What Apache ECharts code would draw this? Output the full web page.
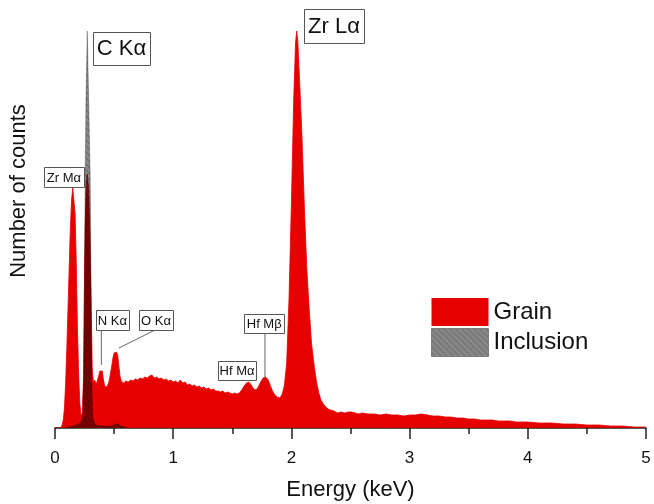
<!DOCTYPE html>
<html>
<head>
<meta charset="utf-8">
<script src="https://cdn.jsdelivr.net/npm/echarts@6/dist/echarts.min.js"></script>
<style>
html,body{margin:0;padding:0;background:#fff;}
#chart{width:654px;height:504px;}
</style>
</head>
<body>
<div id="chart"></div>
<script>
// ---- data (energy in keV, counts in arbitrary units) ----
const xTicks = [0, 1, 2, 3, 4, 5];

const grainEnergy = [0.00,0.05,0.06,0.07,0.08,0.09,0.10,0.11,0.12,0.13,0.14,0.15,0.155,0.16,0.17,0.18,0.19,0.20,0.21,0.22,0.23,0.24,0.248,0.255,0.265,0.273,0.285,0.295,0.305,0.315,0.325,0.335,0.35,0.36,0.37,0.38,0.39,0.40,0.41,0.42,0.43,0.44,0.45,0.46,0.47,0.48,0.49,0.50,0.51,0.52,0.53,0.54,0.55,0.56,0.58,0.60,0.62,0.64,0.66,0.68,0.70,0.72,0.74,0.76,0.78,0.80,0.82,0.84,0.86,0.88,0.90,0.92,0.94,0.96,0.98,1.00,1.02,1.04,1.06,1.08,1.10,1.12,1.14,1.16,1.18,1.20,1.22,1.24,1.26,1.28,1.30,1.32,1.34,1.36,1.38,1.40,1.42,1.44,1.46,1.48,1.50,1.52,1.54,1.56,1.58,1.60,1.62,1.64,1.66,1.68,1.70,1.72,1.74,1.76,1.78,1.80,1.82,1.84,1.86,1.88,1.90,1.92,1.94,1.96,1.98,2.00,2.02,2.035,2.045,2.055,2.07,2.09,2.11,2.13,2.15,2.17,2.19,2.21,2.23,2.25,2.27,2.29,2.31,2.33,2.36,2.39,2.42,2.45,2.48,2.51,2.54,2.57,2.60,2.65,2.70,2.75,2.80,2.85,2.90,2.95,3.00,3.05,3.10,3.15,3.20,3.25,3.30,3.35,3.40,3.45,3.50,3.55,3.60,3.65,3.70,3.75,3.80,3.85,3.90,3.95,4.00,4.10,4.20,4.30,4.40,4.50,4.60,4.70,4.80,4.90,5.00];
const grainCounts = [0,0,3,8,20,45,80,120,160,200,228,240,241,238,215,165,100,55,25,12,15,45,135,200,243,254,238,195,130,60,45,48,44,46,52,57,59,57,48,42,40,41,44,48,55,62,70,75,77,76,73,62,52,47,45,47,46,48,47,49,48,50,49,51,50,52,53,50,51,49,50,48,49,47,48,46,47,45,48,45,46,43,44,42,43,41,42,40,41,39,40,38,39,37,37,36,37,35,36,35,34,35,34,35,38,42,45,46,43,39,38,41,46,50,51,49,43,37,33,31,30,33,42,65,130,225,330,385,397,385,345,290,220,160,120,85,65,48,36,28,24,21,19,18,17,15,16,15,16,16,15,14,15,14,14,13,14,13,13,12,13,13,14,13,12,12,11,11,10,10,9,9,8,8,8,7,7,7,6,6,6,5,5,4,4,3,3,2,2,1,1];

const inclusionEnergy = [0.00,0.08,0.12,0.18,0.22,0.235,0.245,0.25,0.255,0.262,0.273,0.285,0.298,0.305,0.31,0.32,0.34,0.40,0.48,0.51,0.53,0.56,0.62,5.00];
const inclusionCounts = [0,0,1,3,5,12,60,150,250,328,397,328,250,140,50,10,3,2,2,4,4,2,0,0];

const seriesNames = ['Grain', 'Inclusion'];

// peak annotations: label, box centre (data coords)
const peakLabels = ['C K\u03b1', 'Zr L\u03b1', 'Zr M\u03b1', 'N K\u03b1', 'O K\u03b1', 'Hf M\u03b1', 'Hf M\u03b2'];
const labelAnchorE = [0.563, 2.36, 0.076, 0.485, 0.854, 1.540, 1.770];
const labelAnchorV = [380, 402, 251, 108, 108, 58, 104.5];

// -------------------------------------------------------------------------------
const grainData = grainEnergy.map((e, i) => [e, grainCounts[i]]);
const inclusionData = inclusionEnergy.map((e, i) => [e, inclusionCounts[i]]);

function hatch() {
  const c = document.createElement('canvas');
  c.width = 6; c.height = 6;
  const g = c.getContext('2d');
  g.fillStyle = 'rgba(0,0,0,0.47)';
  g.fillRect(0, 0, 6, 6);
  g.strokeStyle = 'rgba(0,0,0,0.28)';
  g.lineWidth = 1;
  g.beginPath();
  g.moveTo(-1, -1); g.lineTo(7, 7);
  g.moveTo(-1, 5); g.lineTo(1, 7);
  g.moveTo(5, -1); g.lineTo(7, 1);
  g.stroke();
  return { image: c, repeat: 'repeat' };
}
const hatchFill = hatch();
const red = '#e60000';
const FONT = '"Liberation Sans", Arial, sans-serif';

const chart = echarts.init(document.getElementById('chart'), null, { renderer: 'canvas' });
chart.setOption({
  animation: false,
  backgroundColor: '#fff',
  grid: { left: 55, right: 8, top: 28, bottom: 76, containLabel: false, outerBoundsMode: 'none' },
  legend: {
    orient: 'vertical',
    left: 431, top: 298, padding: 0,
    itemWidth: 57, itemHeight: 28, itemGap: 2,
    textStyle: { fontFamily: FONT, fontSize: 24, color: '#111' },
    data: [
      { name: seriesNames[0], icon: 'rect', itemStyle: { color: red } },
      { name: seriesNames[1], icon: 'rect', itemStyle: { color: hatchFill, borderColor: 'rgba(0,0,0,0.35)', borderWidth: 1 } }
    ]
  },
  xAxis: {
    type: 'value', min: xTicks[0], max: xTicks[xTicks.length - 1], interval: 1,
    axisLine: { show: true, lineStyle: { color: '#222', width: 1.5 } },
    axisTick: { show: true, length: 11, inside: false, lineStyle: { color: '#222', width: 1.5 } },
    minorTick: { show: true, splitNumber: 2, length: 6, lineStyle: { color: '#222', width: 1.5 } },
    axisLabel: { fontFamily: FONT, fontSize: 17, color: '#111', margin: 22 },
    splitLine: { show: false },
    name: 'Energy (keV)', nameLocation: 'middle', nameGap: 51,
    nameTextStyle: { fontFamily: FONT, fontSize: 22, color: '#111' }
  },
  yAxis: {
    type: 'value', min: 0, max: 400,
    axisLine: { show: false }, axisTick: { show: false }, axisLabel: { show: false }, splitLine: { show: false }
  },
  series: [
    {
      name: seriesNames[0], type: 'line', data: grainData, showSymbol: false, smooth: false,
      lineStyle: { width: 0.8, color: red }, itemStyle: { color: red },
      areaStyle: { color: red, opacity: 1 }, z: 2
    },
    {
      name: seriesNames[1], type: 'line', data: inclusionData, showSymbol: false, smooth: false,
      lineStyle: { width: 0.6, color: 'rgba(0,0,0,0.45)' }, itemStyle: { color: '#777' },
      areaStyle: { color: hatchFill, opacity: 1 }, z: 3
    }
  ]
});

// annotation boxes (sizes in px) and leader lines (data coords)
const boxSize = [[57, 33, 22], [60, 34, 22], [40, 20, 13], [33, 20, 13], [34, 20, 13], [38, 19, 13], [40, 19, 13]];
const leaders = [null, null, null, [[0.392, 98], [0.392, 63]], [[0.846, 98], [0.541, 80]], null, [[1.7765, 95], [1.7765, 50]]];

const g = [];
peakLabels.forEach((t, i) => {
  const p = chart.convertToPixel({ xAxisIndex: 0, yAxisIndex: 0 }, [labelAnchorE[i], labelAnchorV[i]]);
  const [w, h, fs] = boxSize[i];
  g.push({ type: 'rect', shape: { x: Math.round(p[0] - w / 2) + 0.5, y: Math.round(p[1] - h / 2) + 0.5, width: w, height: h },
    style: { fill: '#fff', stroke: '#555', lineWidth: 1 }, z: 10 });
  g.push({ type: 'text', x: p[0], y: p[1] + 1, style: { text: t, font: fs + 'px ' + FONT, fill: '#111', align: 'center', verticalAlign: 'middle' }, z: 11 });
  if (leaders[i]) {
    const a = chart.convertToPixel({ xAxisIndex: 0, yAxisIndex: 0 }, leaders[i][0]);
    const b = chart.convertToPixel({ xAxisIndex: 0, yAxisIndex: 0 }, leaders[i][1]);
    g.push({ type: 'line', shape: { x1: a[0], y1: a[1], x2: b[0], y2: b[1] }, style: { stroke: '#666', lineWidth: 1 }, z: 9 });
  }
});
g.push({ type: 'text', x: 19, y: 191, rotation: Math.PI / 2,
  style: { text: 'Number of counts', font: '22px ' + FONT, fill: '#111', align: 'center', verticalAlign: 'middle' } });
chart.setOption({ graphic: g });
</script>
</body>
</html>
